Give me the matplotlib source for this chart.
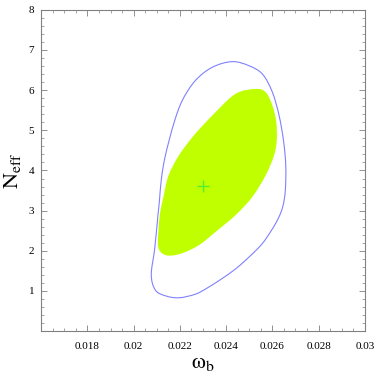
import matplotlib
matplotlib.use("Agg")
import matplotlib.pyplot as plt
from matplotlib.path import Path
from matplotlib.patches import PathPatch
from matplotlib.ticker import MultipleLocator, FixedLocator, FixedFormatter
import numpy as np

plt.rcParams['font.family'] = 'serif'
plt.rcParams['font.serif'] = ['Liberation Serif', 'DejaVu Serif']
plt.rcParams['mathtext.fontset'] = 'stix'

# outer contour (blue line), omega_b / N_eff
outer_wb = [0.02426, 0.02498, 0.02557, 0.02600, 0.02629, 0.02648, 0.02658, 0.02656,
            0.02645, 0.02625, 0.02595, 0.02555, 0.02500, 0.02441, 0.02380, 0.02320,
            0.02267, 0.02195, 0.02137, 0.02094, 0.02076, 0.02091, 0.02105, 0.02111,
            0.02120, 0.02137, 0.02173, 0.02210, 0.02267, 0.02340]
outer_neff = [6.71, 6.61, 6.40, 5.95, 5.37, 4.75, 4.13, 3.50,
              3.10, 2.80, 2.50, 2.17, 1.85, 1.55, 1.30, 1.08,
              0.92, 0.83, 0.88, 1.02, 1.40, 2.06, 2.89, 3.22,
              3.80, 4.37, 5.16, 5.74, 6.24, 6.57]

# inner contour (filled green)
inner_wb = [0.02527, 0.02571, 0.02600, 0.02617, 0.02619, 0.02607, 0.02571, 0.02513,
            0.02441, 0.02354, 0.02282, 0.02210, 0.02151, 0.02115, 0.02105, 0.02113,
            0.02130, 0.02151, 0.02195, 0.02260, 0.02347, 0.02441]
inner_neff = [6.03, 5.95, 5.62, 5.20, 4.75, 4.37, 3.88, 3.34,
              2.89, 2.47, 2.14, 1.94, 1.88, 1.98, 2.22, 2.89,
              3.38, 3.88, 4.37, 4.87, 5.41, 5.91]

best_fit = (0.0230, 3.61)

x_ticks = [0.018, 0.02, 0.022, 0.024, 0.026, 0.028, 0.03]
x_labels = ['0.018', '0.02', '0.022', '0.024', '0.026', '0.028', '0.03']
y_ticks = [1, 2, 3, 4, 5, 6, 7, 8]


def smooth_closed_path(xs, ys, ax):
    # closed bezier path through the points (Catmull-Rom handles), built in display space
    pts = ax.transData.transform(np.column_stack([xs, ys]))
    n = len(pts)
    verts = [pts[0]]
    codes = [Path.MOVETO]
    for i in range(n):
        p0, p1, p2, p3 = pts[i - 1], pts[i], pts[(i + 1) % n], pts[(i + 2) % n]
        verts += [p1 + (p2 - p0) / 6, p2 - (p3 - p1) / 6, p2]
        codes += [Path.CURVE4] * 3
    return Path(verts, codes)


fig = plt.figure(figsize=(3.82, 3.78), dpi=100)
ax = fig.add_axes([0.108, 0.124, 0.847, 0.850])
ax.set_xlim(0.016, 0.030)
ax.set_ylim(0, 8)

ax.add_patch(PathPatch(smooth_closed_path(inner_wb, inner_neff, ax), transform=None,
                       facecolor='#bfff00', edgecolor='none'))
ax.add_patch(PathPatch(smooth_closed_path(outer_wb, outer_neff, ax), transform=None,
                       facecolor='none', edgecolor='#8080ff', lw=0.8))
ax.plot(*best_fit, marker='+', color='#55ee33', ms=8, mew=1.0)

ax.xaxis.set_major_locator(FixedLocator(x_ticks))
ax.xaxis.set_major_formatter(FixedFormatter(x_labels))
ax.xaxis.set_minor_locator(MultipleLocator(0.0005))
ax.yaxis.set_major_locator(FixedLocator(y_ticks))
ax.yaxis.set_minor_locator(MultipleLocator(0.2))

ax.tick_params(which='both', direction='in', top=True, right=True, color='#808080')
ax.tick_params(which='major', length=4, width=0.6, labelsize=8)
ax.tick_params(which='minor', length=2, width=0.5)
ax.tick_params(axis='x', pad=8)
ax.tick_params(axis='y', pad=5)
for s in ax.spines.values():
    s.set_color('#808080')
    s.set_linewidth(0.8)

ax.set_xlabel(r'$\mathrm{\omega_b}$', fontsize=16, labelpad=2)
ax.set_ylabel(r'$\mathrm{N_{eff}}$', fontsize=16, labelpad=4)

fig.savefig('out.png', dpi=100)
